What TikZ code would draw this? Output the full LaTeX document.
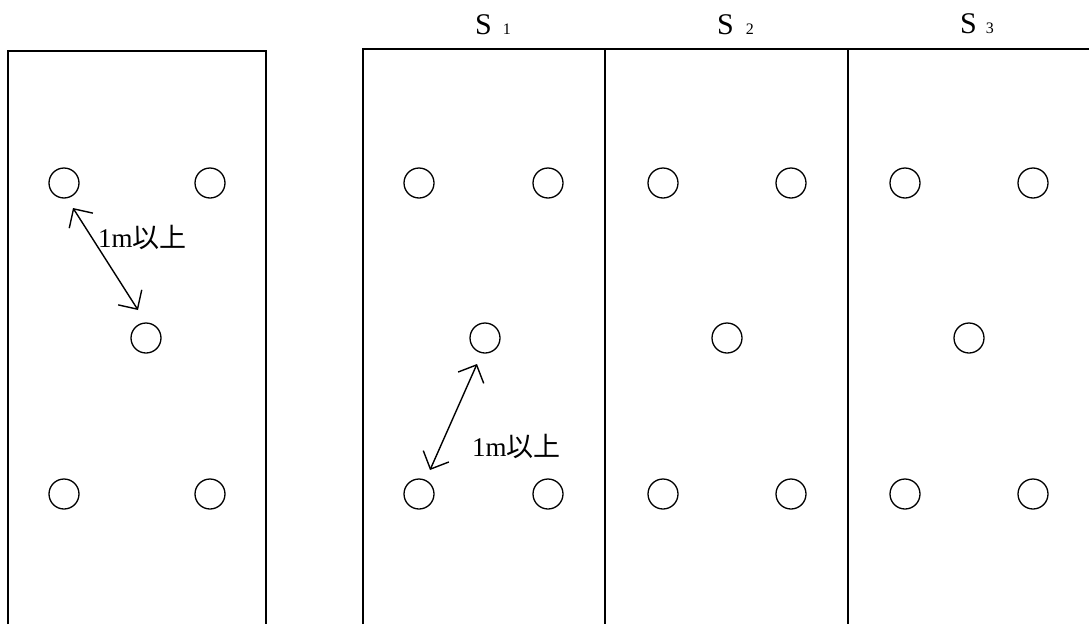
\documentclass[tikz,border=0pt]{standalone}
\usepackage{fontspec}
\setmainfont{Liberation Serif}
\newfontfamily\jpfont{Noto Sans CJK JP}
\usetikzlibrary{arrows.meta}
\begin{document}
\begin{tikzpicture}[x=1pt,y=-1pt,
  hole/.style={circle,draw,line width=1.3pt,minimum size=30pt,inner sep=0pt},
  frame/.style={line width=1.8pt},
  dim/.style={line width=1.4pt,{Straight Barb[length=14pt,width=28pt]}-{Straight Barb[length=14pt,width=28pt]}},
  lab/.style={font=\fontsize{27}{27}\selectfont,inner sep=0pt,anchor=base west},
  slab/.style={font=\fontsize{30}{30}\selectfont,inner sep=0pt,anchor=base west}]
\useasboundingbox (0,0) rectangle (1089,624);
% left box
\draw[frame] (8,624) -- (8,51) -- (266,51) -- (266,624);
% right box
\draw[frame] (363,624) -- (363,49) -- (1089,49);
\draw[frame] (605,49) -- (605,624);
\draw[frame] (848,49) -- (848,624);
% labels
\node[slab] (s1) at (475,34) {S\hspace{11pt}{\fontsize{16}{16}\selectfont 1}};
\node[slab] (s2) at (717,34) {S\hspace{12pt}{\fontsize{16}{16}\selectfont 2}};
\node[slab] (s3) at (960,33) {S\hspace{9pt}{\fontsize{16}{16}\selectfont 3}};
% left holes
\node[hole] (la) at (64,183) {};
\node[hole] (lb) at (210,183) {};
\node[hole] (lc) at (146,338) {};
\node[hole] (ld) at (64,494) {};
\node[hole] (le) at (210,494) {};
% S1
\node[hole] (a1) at (419,183) {};
\node[hole] (b1) at (548,183) {};
\node[hole] (c1) at (485,338) {};
\node[hole] (d1) at (419,494) {};
\node[hole] (e1) at (548,494) {};
% S2
\node[hole] (a2) at (663,183) {};
\node[hole] (b2) at (791,183) {};
\node[hole] (c2) at (727,338) {};
\node[hole] (d2) at (663,494) {};
\node[hole] (e2) at (791,494) {};
% S3
\node[hole] (a3) at (905,183) {};
\node[hole] (b3) at (1033,183) {};
\node[hole] (c3) at (969,338) {};
\node[hole] (d3) at (905,494) {};
\node[hole] (e3) at (1033,494) {};
% dimension arrows
\coordinate (p1) at (73,208);
\coordinate (p2) at (138,310);
\draw[dim] (p1) -- (p2);
\node[lab] (t1) at (98,247) {1m{\jpfont 以上}};
\coordinate (q1) at (477,364);
\coordinate (q2) at (430,470);
\draw[dim] (q1) -- (q2);
\node[lab] (t2) at (472,456) {1m{\jpfont 以上}};
\end{tikzpicture}
\end{document}
